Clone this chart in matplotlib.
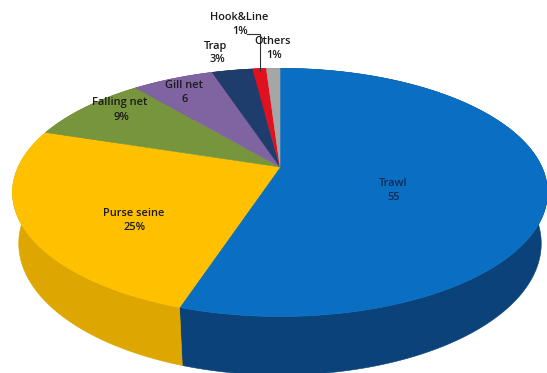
import matplotlib

matplotlib.use("Agg")

import matplotlib.pyplot as plt
import numpy as np
from matplotlib.patches import Polygon

# share of landings by gear type, clockwise from 12 o'clock
methods = ["Trawl", "Purse seine", "Falling net", "Gill net", "Trap", "Hook&Line", "Others"]
shares = [55, 25, 9, 6, 3, 1, 1]
value_text = ["55", "25%", "9%", "6", "3%", "1%", "1%"]

TOP_COLORS = ["#0a6fc2", "#ffc000", "#77953d", "#8064a2", "#1f3d6c", "#e0101e", "#a6a6a6"]
SIDE_COLORS = ["#0a4279", "#dea600", "#5d7630", "#634d80", "#142a4c", "#a80a14", "#7f7f7f"]
TEXT_COLORS = ["#0d2a55", "#1a1a1a", "#1a1a1a", "#1a1a1a", "#1a1a1a", "#1a1a1a", "#1a1a1a"]

# label anchors in pixel space (x, y of the name line)
LABEL_POS = [(393, 184), (134, 214), (120, 103), (184, 86), (216, 46), (239, 18), (273, 41)]

W, H_PX = 547, 373

# simple pinhole view of a flat disc
ELEV = np.radians(27)
DIST = 4.35
FOCAL = 1139.0
THICK = 0.22
CX, CY = 280.0, 167.0


def project(theta, z=0.0, r=1.0):
    theta = np.asarray(theta, dtype=float)
    x = r * np.sin(theta)
    y = r * np.cos(theta)
    up = y * np.sin(ELEV) + z * np.cos(ELEV)
    depth = DIST + y * np.cos(ELEV) - z * np.sin(ELEV)
    return CX + FOCAL * x / depth, CY - FOCAL * up / depth


def main() -> None:
    fig = plt.figure(figsize=(W / 100, H_PX / 100), dpi=100)
    ax = fig.add_axes([0, 0, 1, 1])
    ax.set_xlim(0, W)
    ax.set_ylim(H_PX, 0)
    ax.axis("off")

    fracs = np.array(shares, dtype=float) / sum(shares)
    bounds = np.concatenate([[0], np.cumsum(fracs)]) * 2 * np.pi

    # side walls, back to front
    walls = []
    for i in range(len(shares)):
        t = np.linspace(bounds[i], bounds[i + 1], 200)
        tx, ty = project(t, 0.0)
        bx, by = project(t[::-1], -THICK)
        pts = np.column_stack([np.concatenate([tx, bx]), np.concatenate([ty, by])])
        walls.append((np.mean(np.cos(t)), pts, SIDE_COLORS[i]))
    for _, pts, color in sorted(walls, key=lambda w: -w[0]):
        ax.add_patch(Polygon(pts, closed=True, facecolor=color, edgecolor=color, linewidth=0.4))

    # top faces
    for i in range(len(shares)):
        t = np.linspace(bounds[i], bounds[i + 1], 200)
        tx, ty = project(t, 0.0)
        pts = np.column_stack([np.concatenate([[CX], tx]), np.concatenate([[CY], ty])])
        ax.add_patch(Polygon(pts, closed=True, facecolor=TOP_COLORS[i],
                             edgecolor=TOP_COLORS[i], linewidth=0.4))

    for name, val, (lx, ly), tc in zip(methods, value_text, LABEL_POS, TEXT_COLORS):
        ax.text(lx, ly, name, ha="center", va="center", fontsize=7.9,
                fontfamily="Open Sans", fontweight="semibold", color=tc)
        ax.text(lx + 1, ly + 14, val, ha="center", va="center", fontsize=7.9,
                fontfamily="Open Sans", fontweight="semibold", color=tc)

    # leader for Hook&Line
    mid = (bounds[5] + bounds[6]) / 2
    px, py = project(mid, 0.0)
    ax.plot([247, px, px], [34, 34, py + 2], color="#333333", linewidth=0.8)

    fig.savefig("out.png", dpi=100, facecolor="white")


if __name__ == "__main__":
    main()
